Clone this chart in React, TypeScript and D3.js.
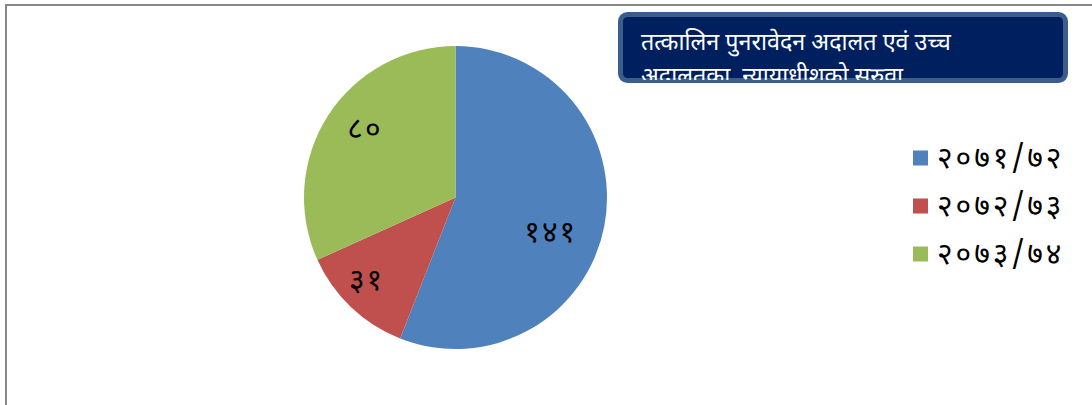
import React from "react";
import * as d3 from "d3";

const categories = ["२०७१/७२", "२०७२/७३", "२०७३/७४"];
const values = [141, 31, 80];
const valueLabels = ["१४१", "३१", "८०"];
const colors = ["#4F81BD", "#C0504D", "#9BBB59"];
const titleLines = ["तत्कालिन पुनरावेदन अदालत एवं उच्च", "अदालतका  न्यायाधीशको सरुवा"];

const W = 1092;
const H = 405;
const FONT = "'Noto Sans Devanagari', 'Lohit Devanagari', 'Mangal', 'Noto Sans', sans-serif";
// small label nudges (layout only)
const labelNudge: [number, number][] = [[-6, 18], [-18, 10], [-4, -10]];

export default function App() {
  const cx = 455.5;
  const cy = 197.5;
  const r = 151.5;
  const pie = d3.pie<number>().sort(null).value((d) => d);
  const arcs = pie(values);
  const arc = d3.arc<d3.PieArcDatum<number>>().innerRadius(0).outerRadius(r);
  const labelArc = d3.arc<d3.PieArcDatum<number>>().innerRadius(r * 0.68).outerRadius(r * 0.68);
  const legendY = d3.scaleLinear().domain([0, 1]).range([158, 206]);

  return (
    <svg width={W} height={H} style={{ position: "absolute", left: 0, top: 0, display: "block" }}>
      <rect x={0} y={0} width={W} height={H} fill="#fff" />
      <path d={`M6,${H} L6,5 L${W},5`} fill="none" stroke="#888" strokeWidth={2} />
      <g transform={`translate(${cx},${cy})`}>
        {arcs.map((a, i) => (
          <path key={i} d={arc(a) || ""} fill={colors[i]} />
        ))}
        {arcs.map((a, i) => {
          const [x, y] = labelArc.centroid(a);
          return (
            <text key={i} x={x + labelNudge[i][0]} y={y + labelNudge[i][1]} textAnchor="middle"
              dominantBaseline="central" fontFamily={FONT} fontSize={30} letterSpacing={2} fill="#000">
              {valueLabels[i]}
            </text>
          );
        })}
      </g>
      <defs>
        <clipPath id="titleClip">
          <rect x={620} y={14} width={446} height={66} />
        </clipPath>
      </defs>
      <rect x={620.5} y={14.5} width={445} height={66} rx={7} ry={7} fill="#001F5F" stroke="#3A5D8E" strokeWidth={5} />
      <g clipPath="url(#titleClip)">
        {titleLines.map((t, i) => (
          <text key={i} x={641} y={50 + i * 34} fontFamily={FONT} fontSize={23.3} fill="#fff"
            style={{ whiteSpace: "pre" }}>
            {t}
          </text>
        ))}
      </g>
      {categories.map((c, i) => (
        <g key={i}>
          <rect x={913} y={legendY(i) - 7.5} width={15} height={15} fill={colors[i]} />
          <text x={937} y={legendY(i) + 2} dominantBaseline="central" fontFamily={FONT} fontSize={30}
            letterSpacing={3} fill="#000">
            {c}
          </text>
        </g>
      ))}
    </svg>
  );
}
